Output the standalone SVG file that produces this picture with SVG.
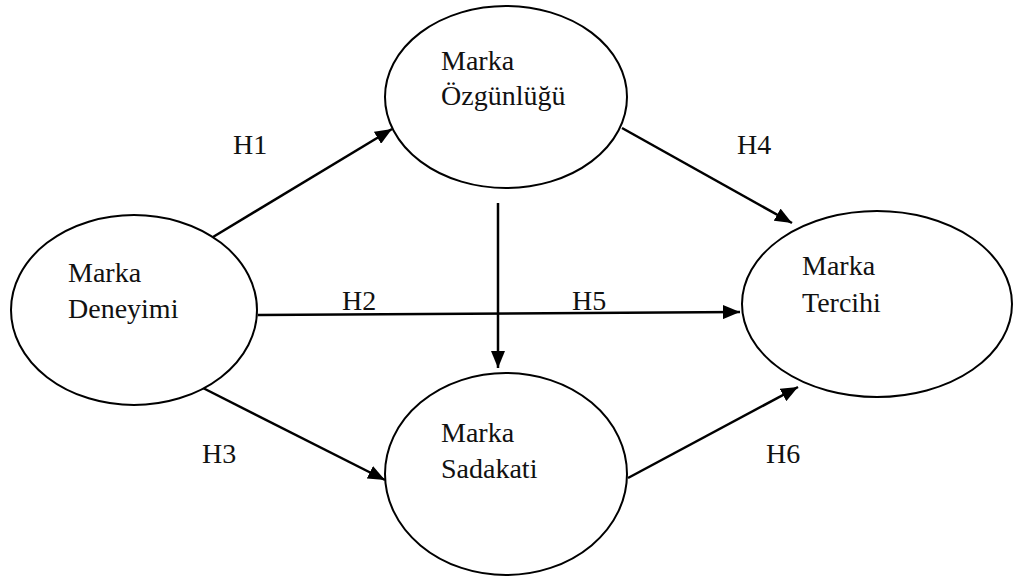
<svg xmlns="http://www.w3.org/2000/svg" width="1018" height="579" viewBox="0 0 1018 579">
<style>
.node{fill:#fff;stroke:#000;stroke-width:2}
.t{font-family:"Liberation Serif","Times New Roman",serif;font-size:28px;fill:#111}
.h{font-family:"Liberation Serif","Times New Roman",serif;font-size:28px;fill:#111}
.c{stroke:#000;stroke-width:2.5;fill:none;marker-end:url(#ah)}
</style>
<defs>
<marker id="ah" markerUnits="userSpaceOnUse" markerWidth="18" markerHeight="14" refX="17" refY="7" orient="auto">
<path d="M0,0 L17,7 L0,14 z" fill="#000"/>
</marker>
</defs>
<rect width="1018" height="579" fill="#fff"/>
<g id="connectors">
<line class="c" x1="213" y1="237" x2="392" y2="129"/>
<line class="c" x1="622" y1="128" x2="792" y2="223"/>
<line class="c" x1="258" y1="315" x2="740" y2="312"/>
<line class="c" x1="498" y1="203" x2="498" y2="368"/>
<line class="c" x1="203" y1="388" x2="385" y2="480"/>
<line class="c" x1="628" y1="478" x2="798" y2="387"/>
</g>
<g id="labels">
<text class="h" x="233" y="154">H1</text>
<text class="h" x="342" y="310">H2</text>
<text class="h" x="202" y="463">H3</text>
<text class="h" x="737" y="154">H4</text>
<text class="h" x="572" y="310">H5</text>
<text class="h" x="766" y="463">H6</text>
</g>
<g id="deneyimi">
<ellipse class="node" cx="134" cy="310" rx="123" ry="95"/>
<text class="t" x="68" y="282">Marka</text>
<text class="t" x="68" y="318">Deneyimi</text>
</g>
<g id="ozgunlugu">
<ellipse class="node" cx="506" cy="97" rx="121" ry="91"/>
<text class="t" x="441" y="70">Marka</text>
<text class="t" x="441" y="105">Özgünlüğü</text>
</g>
<g id="tercihi">
<ellipse class="node" cx="877" cy="304" rx="135" ry="93"/>
<text class="t" x="802" y="275">Marka</text>
<text class="t" x="802" y="312">Tercihi</text>
</g>
<g id="sadakati">
<ellipse class="node" cx="506" cy="474" rx="121" ry="101"/>
<text class="t" x="441" y="442">Marka</text>
<text class="t" x="441" y="478">Sadakati</text>
</g>
</svg>
